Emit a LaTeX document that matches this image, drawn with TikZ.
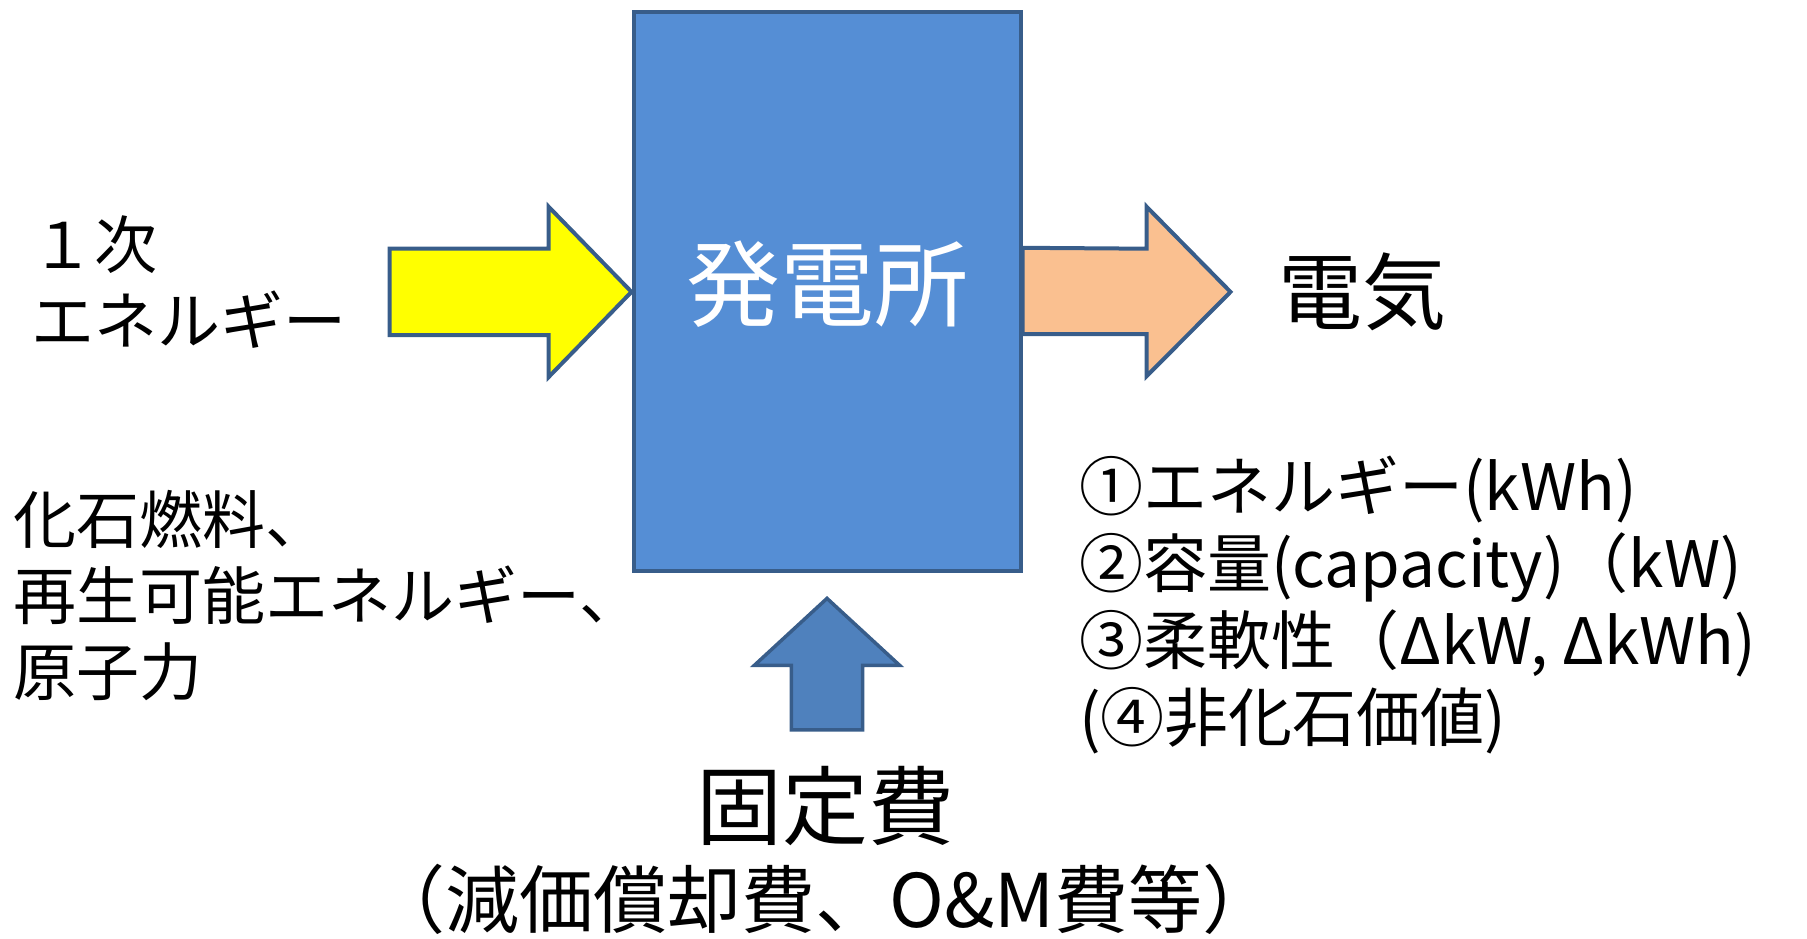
\documentclass[tikz,border=0pt]{standalone}
\usepackage{fontspec}
\setmainfont{Noto Sans CJK JP}
\usepackage{tikz}
\usetikzlibrary{positioning, calc}
\definecolor{plantblue}{HTML}{558ED5}
\definecolor{edgeblue}{HTML}{385D8A}
\definecolor{fuelyellow}{HTML}{FFFF00}
\definecolor{powerorange}{HTML}{FAC090}
\definecolor{costblue}{HTML}{4F81BD}
\tikzstyle{plantbox} = [draw=edgeblue, fill=plantblue, line width=4pt]
\tikzstyle{blockarrow} = [draw=edgeblue, line width=4pt, line join=miter]
\tikzstyle{label} = [inner sep=0pt, align=left, font=\fontsize{63}{76}\selectfont]

\begin{document}
\begin{tikzpicture}[x=1pt, y=-1pt]
        \useasboundingbox (0,0) rectangle (1807,939);
        % power plant
        \node[plantbox, minimum width=387pt, minimum height=559pt, anchor=north west] (plant) at (631.5,10.4) {};
        \node[inner sep=0pt, text=white, font=\fontsize{94}{94}\selectfont] (plantname) at ($(plant.center)+(0,-8)$) {発電所};
        % arrows in and out
        \coordinate (powertip) at ($(plant.east)+(208,0)$);
        \coordinate (costtip) at ($(plant.south)+(0,25)$);
        \draw[blockarrow, fill=fuelyellow] (plant.west) -- ++(-83,-85.3) -- ++(0,42.1) -- ++(-159,0)
            -- ++(0,86.4) -- ++(159,0) -- ++(0,42.1) -- cycle;
        \draw[blockarrow, fill=powerorange] (powertip) -- ++(-84,-85.3) -- ++(0,42.1) -- (plant.east |- 0,247.8)
            -- (plant.east |- 0,334.2) -- ++(124,0) -- ++(0,42.1) -- cycle;
        \draw[blockarrow, line width=3.5pt, fill=costblue] (costtip) -- ++(72.6,66.9) -- ++(-36.9,0) -- ++(0,64.5)
            -- ++(-71.4,0) -- ++(0,-64.5) -- ++(-36.9,0) -- cycle;
        % texts
        \node[label, anchor=west] (primary) at (31,282) {１次\\エネルギー};
        \node[label, anchor=west] (fuels) at (13,596) {化石燃料、\\再生可能エネルギー、\\原子力};
        \node[inner sep=0pt, font=\fontsize{84}{84}\selectfont, right=48pt of powertip] (power) {電気};
        \node[label, font=\fontsize{64}{77}\selectfont, anchor=west] (values) at (1079,605) {①エネルギー(kWh)\\②容量(capacity)（kW)\\③柔軟性（ΔkW, ΔkWh)\\(④非化石価値)};
        \node[inner sep=0pt, font=\fontsize{86}{86}\selectfont] (cost) at (825,806) {固定費};
        \node[inner sep=0pt, font=\fontsize{74}{74}\selectfont] (costdetail) at (824,899) {（減価償却費、O\&M費等）};
    \end{tikzpicture}
\end{document}
